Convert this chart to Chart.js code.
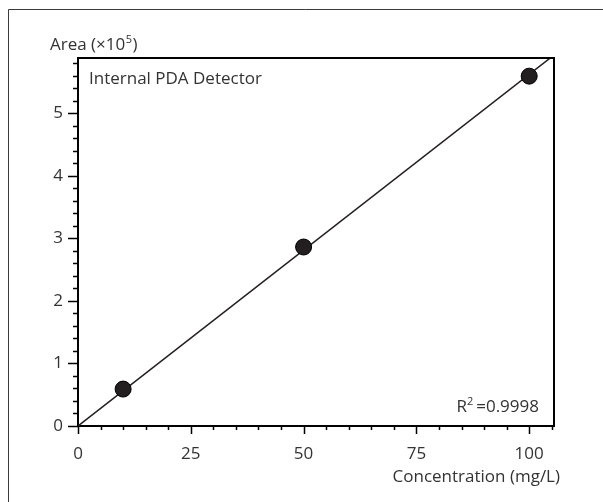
<!DOCTYPE html>
<html>
<head>
<meta charset="utf-8">
<script src="https://cdn.jsdelivr.net/npm/chart.js@4.4.0/dist/chart.umd.min.js"></script>
<style>
  html, body { margin: 0; padding: 0; background: #fff; }
  canvas { display: block; }
</style>
</head>
<body>
<canvas id="calChart" width="603" height="502"></canvas>
<script>
// --- Data ---
const concentrations = [10, 50, 100];          // mg/L
const areas = [0.59, 2.86, 5.59];              // x10^5
const xMajorTicks = [0, 25, 50, 75, 100];
const yMajorTicks = [0, 1, 2, 3, 4, 5];
const xMinorStep = 5;
const yMinorStep = 0.2;
const xMax = 105.5;
const yMax = 5.88;
const rSquared = '0.9998';

// least squares fit through the origin
let sxy = 0, sxx = 0;
concentrations.forEach((x, i) => { sxy += x * areas[i]; sxx += x * x; });
const slope = sxy / sxx;

const textColor = '#333333';
const fontFamily = "'Open Sans', sans-serif";
const fontSize = 17;

// Draws frame, box, ticks and annotation text
const decorPlugin = {
    id: 'decor',
    afterDraw(chart) {
        const ctx = chart.ctx;
        const a = chart.chartArea;
        const xs = chart.scales.x, ys = chart.scales.y;
        ctx.save();

        // outer frame (top + left only)
        ctx.strokeStyle = '#3a3a3a';
        ctx.lineWidth = 1;
        ctx.beginPath();
        ctx.moveTo(8.5, 502);
        ctx.lineTo(8.5, 9.5);
        ctx.lineTo(603, 9.5);
        ctx.stroke();

        // plot box top + right
        ctx.strokeStyle = '#000';
        ctx.lineWidth = 2;
        ctx.beginPath();
        ctx.moveTo(a.left, a.top);
        ctx.lineTo(a.right, a.top);
        ctx.lineTo(a.right, a.bottom);
        ctx.stroke();

        // x ticks
        ctx.lineWidth = 1.5;
        ctx.beginPath();
        for (let v = 0; v <= xMax + 1e-9; v += xMinorStep) {
            const px = Math.round(xs.getPixelForValue(v)) + 0.5;
            const len = xMajorTicks.includes(v) ? 8 : 4;
            ctx.moveTo(px, a.bottom);
            ctx.lineTo(px, a.bottom + len);
        }
        // y ticks
        for (let i = 0; i * yMinorStep <= yMax + 1e-9; i++) {
            const v = i * yMinorStep;
            const py = Math.round(ys.getPixelForValue(v)) + 0.5;
            const major = yMajorTicks.some(t => Math.abs(t - v) < 1e-6);
            ctx.moveTo(a.left, py);
            ctx.lineTo(a.left - (major ? 10 : 5), py);
        }
        ctx.stroke();

        // texts
        ctx.fillStyle = textColor;
        const big = fontSize + 'px ' + fontFamily;
        const small = '11px ' + fontFamily;
        ctx.font = big;
        ctx.textBaseline = 'alphabetic';

        // y title with superscript
        ctx.textAlign = 'left';
        let tx = 50;
        const base = 50;
        ctx.fillText('Area (\u00d710', tx, base);
        tx += ctx.measureText('Area (\u00d710').width;
        ctx.font = small;
        ctx.fillText('5', tx + 0.5, base - 7);
        tx += ctx.measureText('5').width + 1;
        ctx.font = big;
        ctx.fillText(')', tx, base);

        // inner label
        ctx.fillText('Internal PDA Detector', a.left + 11, a.top + 26);

        // R squared, right aligned
        ctx.textAlign = 'right';
        const rVal = '=' + rSquared;
        const rRight = a.right - 15;
        ctx.fillText(rVal, rRight, 412);
        const wVal = ctx.measureText(rVal).width;
        ctx.font = small;
        ctx.fillText('2', rRight - wVal - 3, 405);
        const w2 = ctx.measureText('2').width;
        ctx.font = big;
        ctx.fillText('R', rRight - wVal - 3 - w2, 412);

        // x title
        ctx.fillText('Concentration (mg/L)', 560, 482);

        ctx.restore();
    }
};

const ctx = document.getElementById('calChart');
new Chart(ctx, {
    type: 'scatter',
    data: {
        datasets: [
            {
                label: 'Standards',
                data: concentrations.map((x, i) => ({ x: x, y: areas[i] })),
                backgroundColor: '#231f20',
                borderColor: '#000',
                borderWidth: 1,
                pointRadius: 8,
                order: 0
            },
            {
                label: 'Fit',
                type: 'line',
                data: [{ x: 0, y: 0 }, { x: xMax, y: slope * xMax }],
                borderColor: '#231f20',
                borderWidth: 1.5,
                pointRadius: 0,
                fill: false,
                order: 1
            }
        ]
    },
    options: {
        responsive: false,
        animation: false,
        devicePixelRatio: 1,
        layout: { padding: { top: 58, right: 49, bottom: 36, left: 0 } },
        plugins: {
            legend: { display: false },
            tooltip: { enabled: false }
        },
        scales: {
            x: {
                type: 'linear',
                min: 0,
                max: xMax,
                grid: { display: false },
                border: { display: true, color: '#000', width: 2 },
                afterBuildTicks: s => { s.ticks = xMajorTicks.map(v => ({ value: v })); },
                afterFit: s => { s.height = 40; },
                ticks: {
                    autoSkip: false,
                    maxRotation: 0,
                    padding: 10,
                    color: textColor,
                    font: { family: fontFamily, size: fontSize }
                }
            },
            y: {
                type: 'linear',
                min: 0,
                max: yMax,
                grid: { display: false },
                border: { display: true, color: '#000', width: 2 },
                afterBuildTicks: s => { s.ticks = yMajorTicks.map(v => ({ value: v })); },
                afterFit: s => { s.width = 78; },
                ticks: {
                    autoSkip: false,
                    padding: 7,
                    color: textColor,
                    font: { family: fontFamily, size: fontSize }
                }
            }
        }
    },
    plugins: [decorPlugin]
});
</script>
</body>
</html>
